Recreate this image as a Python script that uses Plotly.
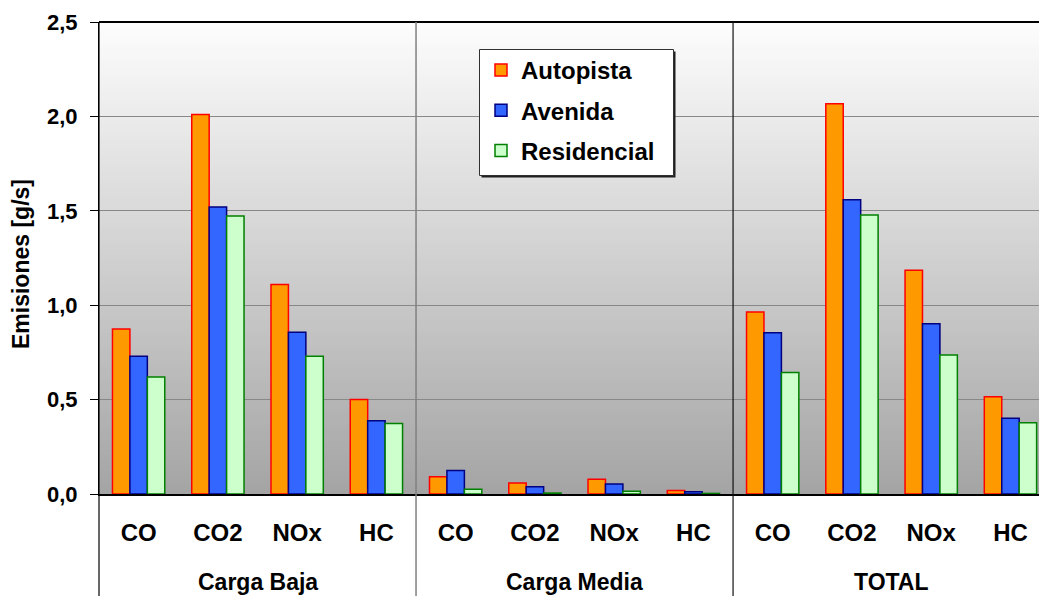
import plotly.graph_objects as go

categories = ["CO", "CO2", "NOx", "HC"]
groups = ["Carga Baja", "Carga Media", "TOTAL"]
series_names = ["Autopista", "Avenida", "Residencial"]
autopista = [0.874, 2.01, 1.11, 0.50, 0.092, 0.058, 0.078, 0.018, 0.964, 2.067, 1.185, 0.515]
avenida = [0.73, 1.52, 0.857, 0.388, 0.125, 0.039, 0.053, 0.012, 0.854, 1.559, 0.902, 0.401]
residencial = [0.62, 1.472, 0.73, 0.374, 0.025, 0.005, 0.014, 0.003, 0.643, 1.478, 0.736, 0.378]
fills = ["#FF9900", "#3366FF", "#CCFFCC"]
lines = ["#FF0000", "#000080", "#008000"]

FONT = "Arial, 'Liberation Sans', sans-serif"
xpos = list(range(len(groups) * len(categories)))
ticktext = categories * len(groups)

fig = go.Figure()
for name, vals, fc, lc in zip(series_names, [autopista, avenida, residencial], fills, lines):
    fig.add_trace(go.Bar(x=xpos, y=vals, name=name, legendgroup=name,
                         marker=dict(color=fc, line=dict(color=lc, width=1.5))))

L, T, W, H = 99, 22, 940, 472  # plot area in px


def px_x(p):
    return (p - L) / W


def px_y(p):
    return (T + H - p) / H


shapes = []
# vertical gradient background
N = 120
top, bot = 253, 164
for i in range(N):
    t = (i + 0.5) / N
    v = round(bot + (top - bot) * t)
    shapes.append(dict(type="rect", xref="x domain", yref="y domain",
                       x0=0, x1=1, y0=i / N, y1=(i + 1) / N + 0.002,
                       fillcolor=f"rgb({v},{v},{v})", line=dict(width=0), layer="below"))
# top border
shapes.append(dict(type="line", xref="x domain", yref="y domain", x0=0, x1=1, y0=1, y1=1,
                   line=dict(color="black", width=2)))
# left line extended down
shapes.append(dict(type="line", xref="x domain", yref="paper", x0=0, x1=0, y0=-0.25, y1=1,
                   line=dict(color="black", width=1.2)))
# group dividers
shapes.append(dict(type="line", xref="x", yref="paper", x0=3.5, x1=3.5, y0=-0.25, y1=1,
                   line=dict(color="#808080", width=1.5)))
shapes.append(dict(type="line", xref="x", yref="paper", x0=7.5, x1=7.5, y0=-0.25, y1=1,
                   line=dict(color="#111111", width=1.2)))
# legend shadow and box
shapes.append(dict(type="rect", xref="paper", yref="paper",
                   x0=px_x(481.5), x1=px_x(675.5), y0=px_y(177.5), y1=px_y(51.5),
                   fillcolor="#202020", line=dict(width=0), layer="above"))
shapes.append(dict(type="rect", xref="paper", yref="paper",
                   x0=px_x(479.5), x1=px_x(673.5), y0=px_y(175.5), y1=px_y(49.5),
                   fillcolor="white", line=dict(color="#303030", width=1), layer="above"))

annotations = []
for gi, g in enumerate(groups):
    annotations.append(dict(text=g, x=gi * 4 + 1.5, xref="x", y=px_y(582), yref="paper",
                            showarrow=False, yanchor="middle",
                            font=dict(family=FONT, size=23, color="black", weight="bold")))
annotations.append(dict(text="Emisiones [g/s]", textangle=-90, x=px_x(21), xref="paper",
                        y=px_y(264), yref="paper", showarrow=False,
                        xanchor="center", yanchor="middle",
                        font=dict(family=FONT, size=23, color="black", weight="bold")))

fig.update_layout(
    width=1039, height=596,
    margin=dict(l=L, r=0, t=T, b=596 - T - H),
    paper_bgcolor="white", plot_bgcolor="white",
    separators=",.",
    barmode="group", bargap=0.34, bargroupgap=0,
    shapes=shapes, annotations=annotations,
    legend=dict(x=px_x(481), y=px_y(48), xanchor="left", yanchor="top",
                bgcolor="rgba(0,0,0,0)", borderwidth=0,
                traceorder="grouped", tracegroupgap=6,
                font=dict(family=FONT, size=24, color="black", weight="bold")),
    xaxis=dict(range=[-0.5, 11.36], tickvals=xpos, ticktext=ticktext, showgrid=False,
               zeroline=False, showline=True, linecolor="black", linewidth=2, ticks="",
               ticklabelstandoff=16,
               tickfont=dict(family=FONT, size=24, color="black", weight="bold")),
    yaxis=dict(range=[0, 2.5], dtick=0.5, tick0=0, tickformat=".1f", showgrid=True,
               gridcolor="#888888", gridwidth=1, zeroline=False, showline=True,
               linecolor="black", linewidth=1, ticks="outside", ticklen=8, tickcolor="black",
               ticklabelstandoff=8,
               tickfont=dict(family=FONT, size=22, color="black", weight="bold")),
)

fig.write_html("out.html", config={"displayModeBar": False},
               post_script="document.body.style.margin='0';")
